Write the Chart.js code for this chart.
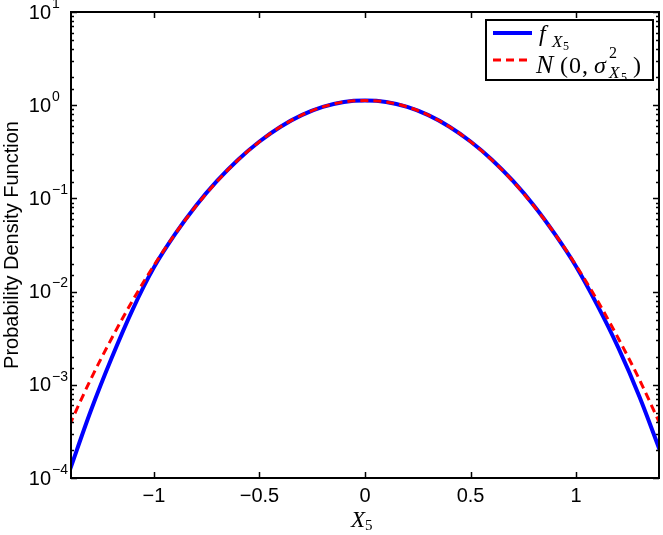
<!DOCTYPE html>
<html>
<head>
<meta charset="utf-8">
<script src="https://cdn.jsdelivr.net/npm/chart.js@4"></script>
<style>
html, body { margin: 0; padding: 0; background: #fff; }
</style>
</head>
<body>
<canvas id="pdfchart" width="663" height="535"></canvas>
<script>
// values
var xValues = [-1.4, -1.3, -1.2, -1.1, -1.0, -0.9, -0.8, -0.7, -0.6, -0.5, -0.4, -0.3, -0.2, -0.1, 0,
    0.1, 0.2, 0.3, 0.4, 0.5, 0.6, 0.7, 0.8, 0.9, 1.0, 1.1, 1.2, 1.3, 1.4];
var fX5 = [1.19e-4, 5.2e-4, 1.95e-3, 6.5e-3, 0.0182, 0.0413, 0.084, 0.155, 0.262, 0.408, 0.588, 0.782, 0.958, 1.083, 1.12,
    1.083, 0.958, 0.782, 0.588, 0.408, 0.262, 0.155, 0.084, 0.0413, 0.0186, 7.2e-3, 2.5e-3, 7.5e-4, 1.9e-4];
var normalFit = [3.7e-4, 1.14e-3, 3.16e-3, 8.1e-3, 0.0191, 0.0415, 0.083, 0.153, 0.26, 0.407, 0.588, 0.783, 0.96, 1.085, 1.12,
    1.085, 0.96, 0.783, 0.588, 0.407, 0.26, 0.153, 0.083, 0.0415, 0.0191, 8.1e-3, 3.16e-3, 1.14e-3, 3.7e-4];
var xTicks = [-1, -0.5, 0, 0.5, 1];
var xTickLabels = ['\u22121', '\u22120.5', '0', '0.5', '1'];
var yExponents = ['\u22124', '\u22123', '\u22122', '\u22121', '0', '1'];
var yTitle = 'Probability Density Function';

var sans = "'Liberation Sans', Arial, sans-serif";
var serif = "'Liberation Serif', 'DejaVu Serif', serif";

function toPoints(ys) {
    return xValues.map(function (x, i) { return { x: x, y: ys[i] }; });
}

function put(ctx, font, text, x, y) {
    ctx.font = font;
    ctx.fillText(text, x, y);
}

// MATLAB style box, inward ticks, 10^n labels, x label and legend
var matlabAxes = {
    id: 'matlabAxes',
    afterDraw: function (chart) {
        var ctx = chart.ctx;
        var a = chart.chartArea;
        var xs = chart.scales.x, ys = chart.scales.y;
        ctx.save();
        ctx.strokeStyle = '#000';
        ctx.lineWidth = 2;
        ctx.strokeRect(a.left, a.top, a.right - a.left, a.bottom - a.top);

        // x ticks bottom and top
        ctx.lineWidth = 1.5;
        ctx.beginPath();
        xTicks.forEach(function (v) {
            var px = Math.round(xs.getPixelForValue(v)) + 0.5;
            ctx.moveTo(px, a.bottom); ctx.lineTo(px, a.bottom - 6);
            ctx.moveTo(px, a.top); ctx.lineTo(px, a.top + 6);
        });
        // y ticks left and right, major and minor
        ys.ticks.forEach(function (t) {
            var e = Math.log10(t.value);
            var major = Math.abs(e - Math.round(e)) < 1e-6;
            var len = major ? 6 : 3;
            var py = Math.round(ys.getPixelForValue(t.value)) + 0.5;
            ctx.moveTo(a.left, py); ctx.lineTo(a.left + len, py);
            ctx.moveTo(a.right, py); ctx.lineTo(a.right - len, py);
        });
        ctx.stroke();

        // y tick labels
        ctx.fillStyle = '#000';
        yExponents.forEach(function (ex, i) {
            var py = ys.getPixelForValue(Math.pow(10, i - 4));
            ctx.textAlign = 'right';
            ctx.textBaseline = 'middle';
            put(ctx, '20px ' + sans, '10', 51, py + 1);
            ctx.textAlign = 'left';
            put(ctx, '14px ' + sans, ex, 52, py - 8);
        });

        // x axis title
        ctx.textBaseline = 'alphabetic';
        ctx.textAlign = 'left';
        put(ctx, 'italic 23px ' + serif, 'X', 351, 527);
        put(ctx, '15px ' + serif, '5', 365, 530);

        // legend
        ctx.fillStyle = '#fff';
        ctx.fillRect(486, 20, 167, 60);
        ctx.lineWidth = 2;
        ctx.strokeRect(486, 20, 167, 60);
        ctx.lineWidth = 4;
        ctx.strokeStyle = '#0000ff';
        ctx.beginPath(); ctx.moveTo(493, 33); ctx.lineTo(532, 33); ctx.stroke();
        ctx.lineWidth = 3;
        ctx.strokeStyle = '#ff0000';
        ctx.setLineDash([8, 5]);
        ctx.beginPath(); ctx.moveTo(493, 60); ctx.lineTo(532, 60); ctx.stroke();
        ctx.setLineDash([]);

        ctx.fillStyle = '#000';
        put(ctx, 'italic 24px ' + serif, 'f', 539, 41);
        put(ctx, 'italic 17px ' + serif, 'X', 552, 47);
        put(ctx, '12px ' + serif, '5', 563, 50);

        put(ctx, 'italic 26px ' + serif, 'N', 536, 73);
        put(ctx, '24px ' + serif, '(', 560, 73);
        put(ctx, '24px ' + serif, '0', 569, 73);
        put(ctx, '24px ' + serif, ',', 582, 73);
        put(ctx, 'italic 24px ' + serif, '\u03c3', 594, 73);
        put(ctx, '16px ' + serif, '2', 609, 58);
        put(ctx, 'italic 17px ' + serif, 'X', 609, 78);
        put(ctx, '12px ' + serif, '5', 621, 81);
        put(ctx, '24px ' + serif, ')', 633, 73);
        ctx.restore();
    }
};

var chart1 = document.getElementById('pdfchart');
var myChart1 = new Chart(chart1, {
    type: 'line',
    data: {
        datasets: [{
            label: 'fX5',
            data: toPoints(fX5),
            borderColor: '#0000ff',
            borderWidth: 4,
            order: 2
        }, {
            label: 'N(0, sigma^2)',
            data: toPoints(normalFit),
            borderColor: '#ff0000',
            borderWidth: 3,
            borderDash: [8, 5],
            order: 1
        }]
    },
    options: {
        responsive: false,
        animation: false,
        layout: { padding: { top: 12, right: 4, left: 0, bottom: 0 } },
        elements: {
            point: { radius: 0 },
            line: { cubicInterpolationMode: 'monotone', fill: false }
        },
        plugins: {
            legend: { display: false },
            tooltip: { enabled: false }
        },
        scales: {
            x: {
                type: 'linear',
                min: -1.393,
                max: 1.393,
                afterBuildTicks: function (s) { s.ticks = xTicks.map(function (v) { return { value: v }; }); },
                afterFit: function (s) { s.height = 57; },
                grid: { display: false, drawTicks: false },
                border: { display: false },
                ticks: {
                    autoSkip: false,
                    maxRotation: 0,
                    padding: 6,
                    color: '#000',
                    font: { family: sans, size: 20 },
                    callback: function (v, i) { return xTickLabels[i]; }
                }
            },
            y: {
                type: 'logarithmic',
                min: 1e-4,
                max: 10,
                afterFit: function (s) { s.width = 71; },
                grid: { display: false, drawTicks: false },
                border: { display: false },
                ticks: { display: false },
                title: {
                    display: true,
                    text: yTitle,
                    color: '#000',
                    font: { family: sans, size: 20 },
                    padding: { top: 0, bottom: 0 }
                }
            }
        }
    },
    plugins: [matlabAxes]
});
</script>
</body>
</html>
